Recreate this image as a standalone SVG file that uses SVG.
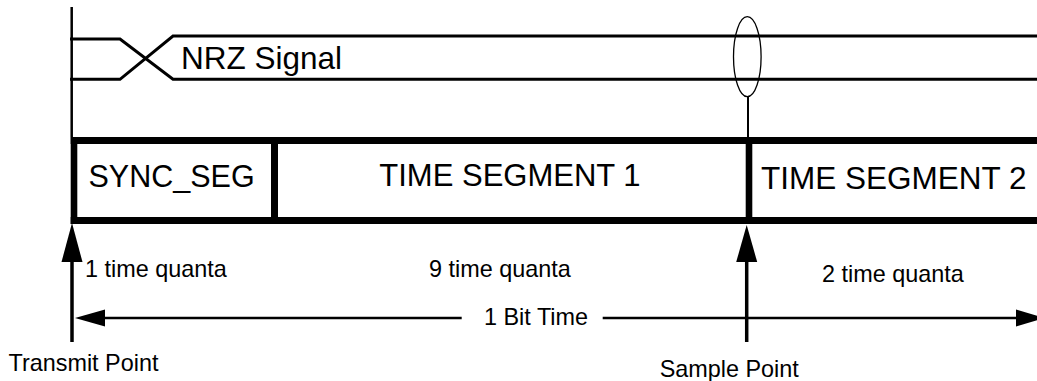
<svg xmlns="http://www.w3.org/2000/svg" width="1037" height="381" viewBox="0 0 1037 381">
<style>
  .big { font-family: "Liberation Sans", Arial, sans-serif; font-size: 31px; fill: #000; }
  .small { font-family: "Liberation Sans", Arial, sans-serif; font-size: 23.4px; fill: #000; }
  .sig { fill: none; stroke: #000; stroke-width: 3; }
  .bar { fill: #000; }
  .thin { fill: none; stroke: #000; }
</style>
<rect width="1037" height="381" fill="#fff"/>

<g id="nrz-signal">
  <path class="sig" d="M70,39 H120 L173,79.3 H1037"/>
  <path class="sig" d="M70,79.3 H120 L173,36 H1037"/>
  <text class="big" x="181" y="68.5" style="font-size:31.5px">NRZ Signal</text>
</g>

<g id="frame">
  <rect class="bar" x="70.7" y="137" width="966.3" height="7"/>
  <rect class="bar" x="70.7" y="217" width="966.3" height="7"/>
</g>

<g id="sync-seg">
  <rect class="bar" x="70.7" y="137" width="6.6" height="87"/>
  <text class="big" x="88.5" y="186.7" style="font-size:30.5px">SYNC_SEG</text>
</g>

<g id="time-segment-1">
  <rect class="bar" x="271" y="137" width="7" height="87"/>
  <text class="big" x="379.3" y="186">TIME SEGMENT 1</text>
</g>

<g id="time-segment-2">
  <rect class="bar" x="745.7" y="137" width="6.6" height="87"/>
  <text class="big" x="761" y="189" style="font-size:31.5px">TIME SEGMENT 2</text>
</g>

<g id="transmit-point">
  <text class="small" x="8.5" y="370.7">Transmit Point</text>
</g>

<g id="sample-point">
  <ellipse class="thin" cx="747.3" cy="56.7" rx="13.8" ry="40" stroke-width="1.3"/>
  <text class="small" x="659.7" y="376.5">Sample Point</text>
</g>

<g id="labels">
  <text class="small" x="85" y="276.7">1 time quanta</text>
  <text class="small" x="429" y="276.7">9 time quanta</text>
  <text class="small" x="822" y="281.7">2 time quanta</text>
  <text class="small" x="484" y="325">1 Bit Time</text>
</g>

<g id="connectors">
  <line class="thin" x1="71.7" y1="7" x2="71.7" y2="137" stroke-width="2.5"/>
  <line class="thin" x1="748" y1="96.7" x2="748" y2="137" stroke-width="2"/>
  <line class="thin" x1="72" y1="260" x2="72" y2="342" stroke-width="3.5"/>
  <polygon class="bar" points="72,223 61.5,262 82.5,262"/>
  <line class="thin" x1="746.7" y1="260" x2="746.7" y2="342" stroke-width="3.5"/>
  <polygon class="bar" points="746.7,225 736.2,262 757.2,262"/>
  <line class="thin" x1="103" y1="318" x2="461.7" y2="318" stroke-width="2.5"/>
  <line class="thin" x1="602.7" y1="318" x2="1018" y2="318" stroke-width="2.5"/>
  <polygon class="bar" points="75,318 105,309.5 105,326.5"/>
  <polygon class="bar" points="1045,318 1016,309.5 1016,326.5"/>
</g>
</svg>
